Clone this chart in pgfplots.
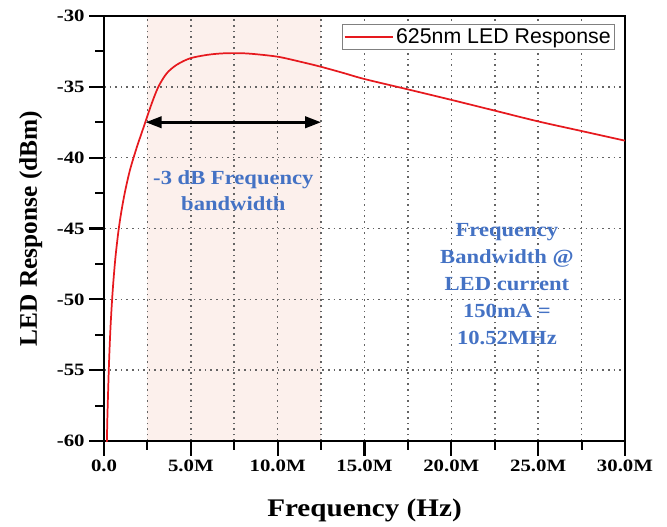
\documentclass[border=0pt]{standalone}
\usepackage{fontspec}
\setmainfont{Liberation Serif}
\newfontfamily\arialfont{Liberation Sans}
\newfontfamily\tickfont[FakeStretch=1.2]{Liberation Serif}
\newfontfamily\xlabfont[FakeStretch=1.15]{Liberation Serif}
\newfontfamily\annfont[FakeStretch=1.13]{Liberation Serif}
\usepackage{pgfplots}
\pgfplotsset{compat=1.18}
\usetikzlibrary{arrows.meta}
\definecolor{curvered}{RGB}{230,25,30}
\definecolor{annblue}{RGB}{68,114,196}
\definecolor{shade}{RGB}{252,240,236}
\definecolor{gridgray}{RGB}{100,100,100}
\begin{document}
\begin{tikzpicture}
\begin{axis}[
  set layers,
  scale only axis,
  width=390.75pt, height=318.75pt,
  xmin=0, xmax=30, ymin=-60, ymax=-30,
  axis line style={line width=1.6pt},
  xtick={0,5,10,15,20,25,30},
  xticklabels={0.0,5.0M,10.0M,15.0M,20.0M,25.0M,30.0M},
  minor xtick={2.5,7.5,12.5,17.5,22.5,27.5},
  ytick={-60,-55,-50,-45,-40,-35,-30},
  minor ytick={-57.5,-52.5,-47.5,-42.5,-37.5,-32.5},
  xtick pos=left, ytick pos=left,
  tick align=outside,
  major tick length=11pt, minor tick length=6.5pt,
  tick style={line width=1.6pt, black},
  xmajorgrids=true, xminorgrids=true, ymajorgrids=true, yminorgrids=false,
  major grid style={draw=gridgray, line width=1.2pt, dash pattern=on 1.2pt off 3pt},
  minor grid style={draw=gridgray, line width=1.2pt, dash pattern=on 1.2pt off 3pt},
  /pgf/number format/assume math mode=true,
  tick label style={font=\tickfont\bfseries\fontsize{13}{15}\selectfont},
  yticklabel style={/pgf/number format/fixed},
  xlabel={Frequency (Hz)},
  ylabel={LED Response (dBm)},
  xlabel style={font=\xlabfont\bfseries\fontsize{19}{22}\selectfont, at={(rel axis cs:0.5,0)}, anchor=center, yshift=-51.75pt},
  ylabel style={font=\bfseries\fontsize{19}{22}\selectfont, at={(rel axis cs:0,0.5)}, anchor=center, xshift=0pt, yshift=55pt},
  legend style={at={(rel axis cs:0.981,0.981)}, anchor=north east,
    draw=gray, line width=0.6pt, inner xsep=1pt, inner ysep=1pt,
    font=\arialfont\fontsize{16}{18}\selectfont, fill=white},
  legend cell align=left,
  legend image code/.code={\draw[#1] (0pt,0pt) -- (36pt,0pt);},
]
\addplot[fill=shade, draw=none, forget plot, on layer=axis background] coordinates {(2.5,-60) (2.5,-30) (12.5,-30) (12.5,-60)} -- cycle;
\addplot[curvered, line width=1.3pt, smooth, tension=0.5] coordinates {
(0.16,-60.4) (0.2,-58.1) (0.29,-54.45) (0.38,-51.85) (0.5,-49.4) (0.65,-47.15)
(0.83,-45.2) (1.0,-43.8) (1.21,-42.4) (1.5,-40.85) (1.88,-39.3) (2.17,-38.25)
(2.42,-37.35) (2.74,-36.2) (3.13,-35.0) (3.61,-34.05) (4.18,-33.45) (4.95,-32.99)
(5.91,-32.75) (6.68,-32.65) (7.45,-32.62) (8.41,-32.66) (9.98,-32.87) (11.28,-33.22)
(12.48,-33.58) (13.78,-34.02) (15,-34.45) (17.5,-35.18) (20,-35.92) (22.5,-36.68)
(25,-37.44) (27.5,-38.12) (30,-38.8)
};
\addlegendentry{625nm LED Response}
\addplot[black, line width=2.2pt, {Triangle[length=12pt,width=8.5pt]}-{Triangle[length=12pt,width=8.5pt]}, forget plot] coordinates {(2.4,-37.5) (12.5,-37.5)};
\node[annblue, font=\annfont\bfseries\fontsize{15}{19.5}\selectfont, align=center] at (axis cs:7.45,-42.3) {-3 dB Frequency\\bandwidth};
\node[annblue, font=\annfont\bfseries\fontsize{15}{20.2}\selectfont, align=center] at (axis cs:23.2,-48.9) {Frequency\\Bandwidth @\\LED current\\150mA =\\10.52MHz};
\end{axis}
\pgfresetboundingbox
\path[use as bounding box] (-78pt,-63.75pt) rectangle (422.25pt,330.75pt);
\end{tikzpicture}
\end{document}
